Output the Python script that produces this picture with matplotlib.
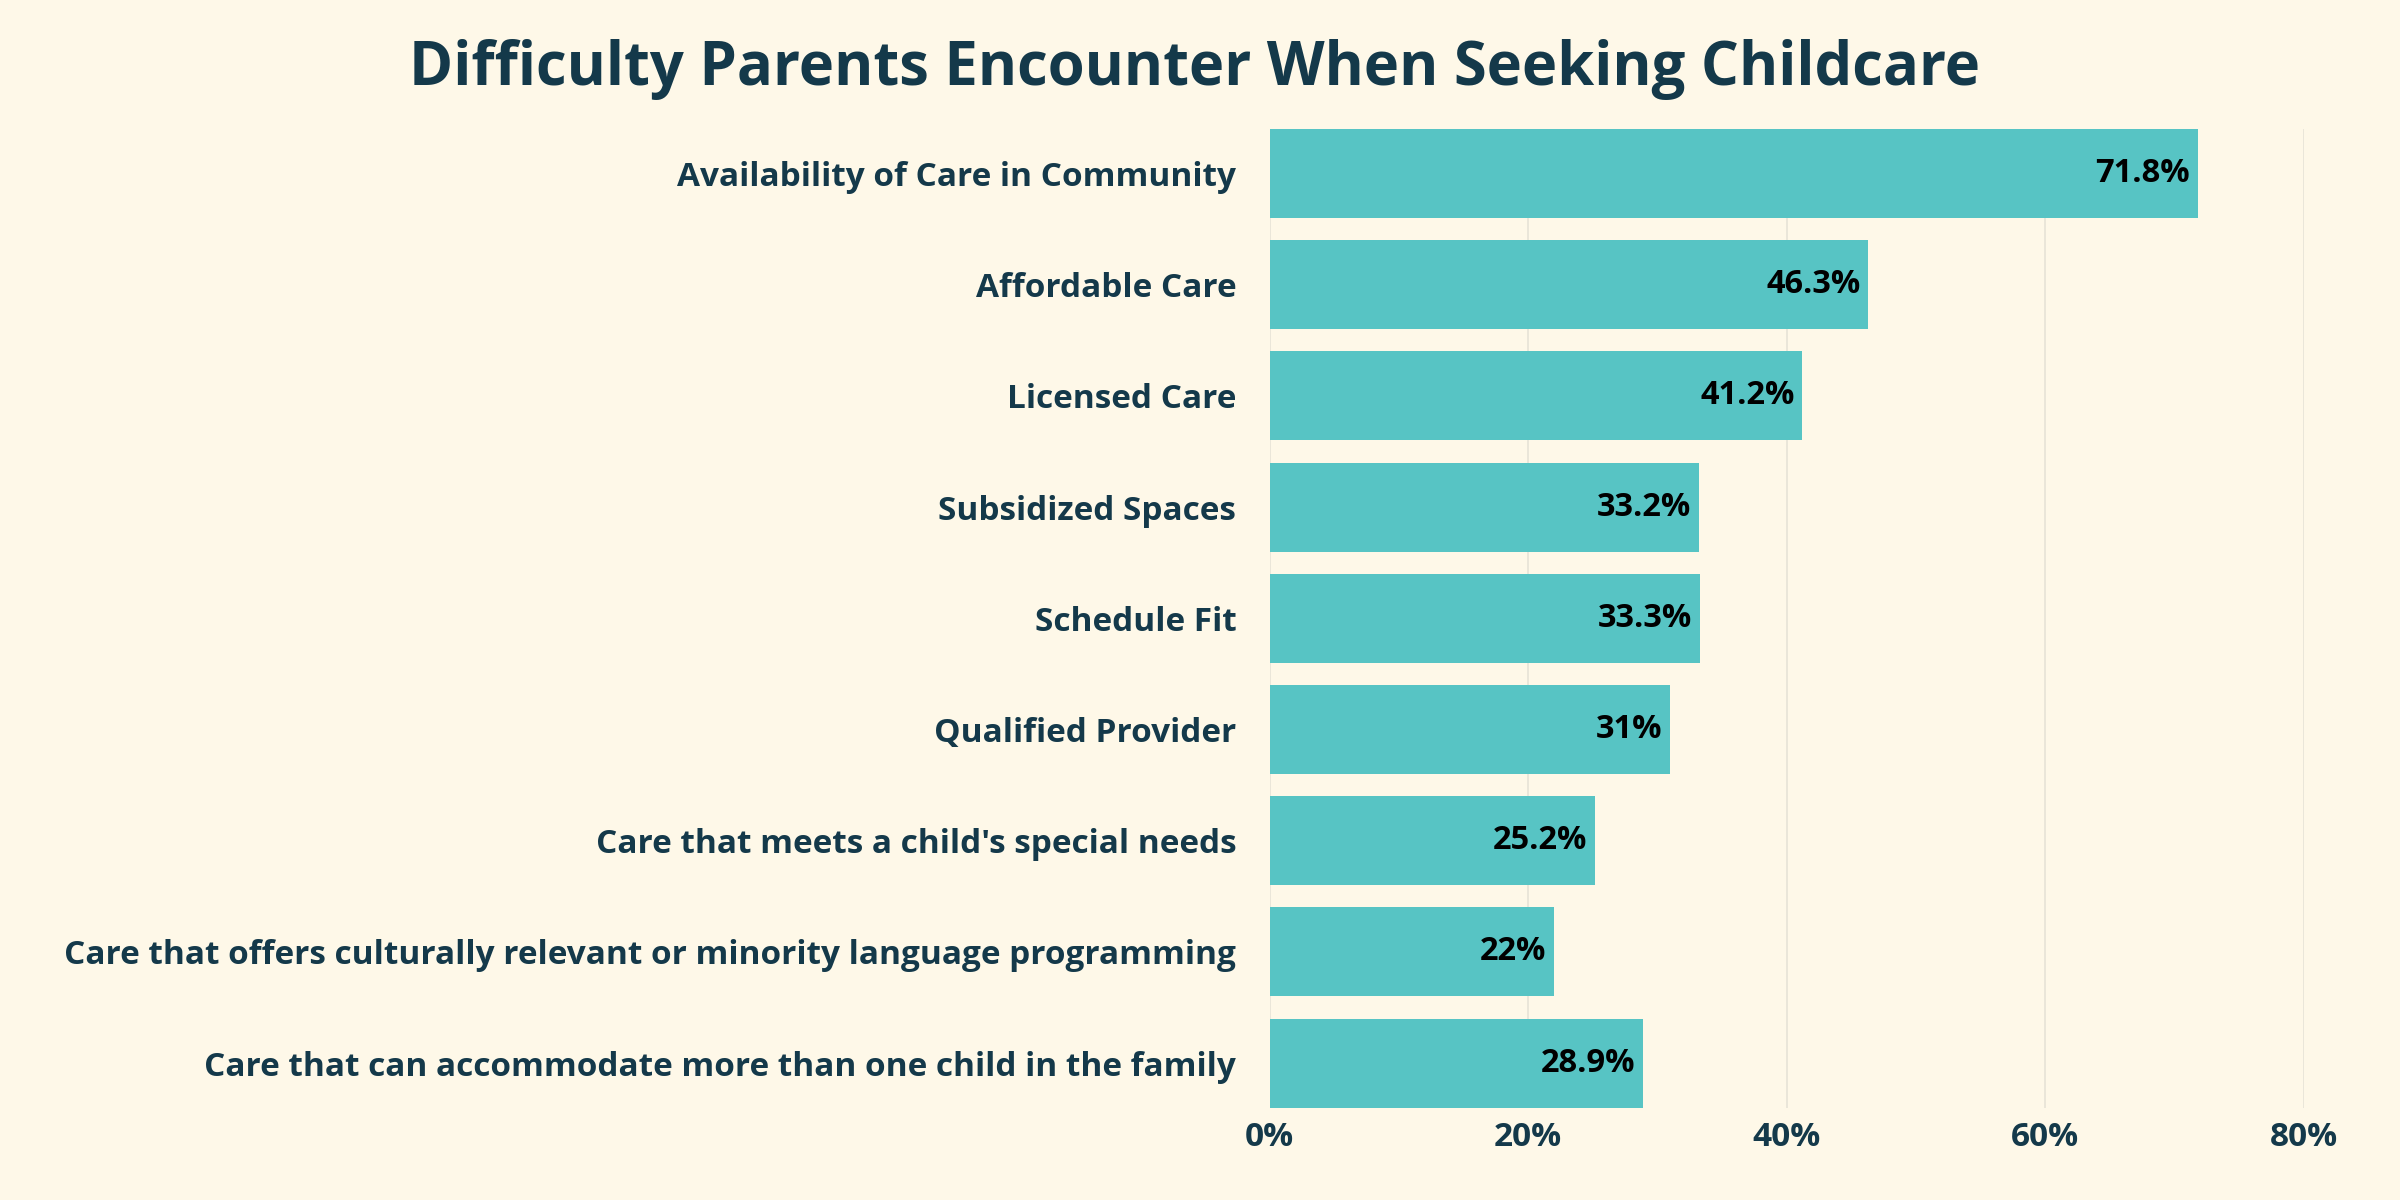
import matplotlib
matplotlib.use("Agg")
import matplotlib.pyplot as plt
from matplotlib.ticker import FuncFormatter

categories = [
    "Availability of Care in Community",
    "Affordable Care",
    "Licensed Care",
    "Subsidized Spaces",
    "Schedule Fit",
    "Qualified Provider",
    "Care that meets a child's special needs",
    "Care that offers culturally relevant or minority language programming",
    "Care that can accommodate more than one child in the family",
]
values = [71.8, 46.3, 41.2, 33.2, 33.3, 31, 25.2, 22, 28.9]
value_labels = ["71.8%", "46.3%", "41.2%", "33.2%", "33.3%", "31%", "25.2%", "22%", "28.9%"]
xticks = [0, 20, 40, 60, 80]

bg = "#fef8e8"
bar_color = "#57c4c4"
dark = "#14394a"

plt.rcParams['font.family'] = ['Open Sans', 'DejaVu Sans']

fig = plt.figure(figsize=(24, 12), dpi=100, facecolor=bg)
ax = fig.add_axes([0.529, 0.077, 0.431, 0.8155])
ax.set_facecolor(bg)

pos = list(range(len(categories)))
ax.barh(pos, values, height=0.8, color=bar_color, zorder=2)
for p, v, lab in zip(pos, values, value_labels):
    ax.text(v - 0.6, p, lab, ha="right", va="center", fontsize=23.5,
            fontweight="bold", color="black", zorder=3)

ax.set_ylim(8.4, -0.4)
ax.set_xlim(0, 80)
ax.set_yticks(pos)
ax.set_yticklabels(categories, fontsize=24, fontweight="bold", color=dark)
ax.set_xticks(xticks)
ax.xaxis.set_major_formatter(FuncFormatter(lambda x, _: f"{x:.0f}%"))
for t in ax.get_xticklabels():
    t.set_fontsize(24)
    t.set_fontweight("bold")
    t.set_color(dark)
ax.tick_params(axis="both", length=0)
ax.tick_params(axis="y", pad=24)
ax.tick_params(axis="x", pad=10)
ax.grid(axis="x", color="#e6e3d6", linewidth=1.2, zorder=0)
for s in ax.spines.values():
    s.set_visible(False)

fig.text(0.4977, 0.942, "Difficulty Parents Encounter When Seeking Childcare",
         ha="center", va="center", fontsize=43, fontweight="bold", color=dark)

fig.savefig("out.png", dpi=100, facecolor=bg)
